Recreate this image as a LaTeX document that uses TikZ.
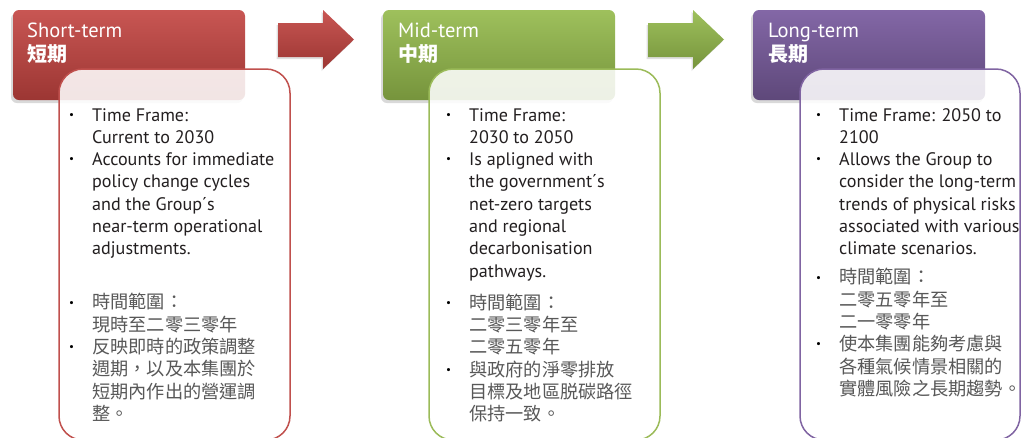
\documentclass[tikz,border=0pt]{standalone}
\usepackage{fontspec}
\setmainfont{PT Sans}
\newfontfamily\cjk{Noto Sans CJK TC}
\usetikzlibrary{shadows}
\definecolor{redA}{RGB}{200,86,83}
\definecolor{redB}{RGB}{156,54,51}
\definecolor{redE}{RGB}{192,80,77}
\definecolor{grnA}{RGB}{158,192,92}
\definecolor{grnB}{RGB}{118,148,60}
\definecolor{grnE}{RGB}{155,187,89}
\definecolor{purA}{RGB}{131,103,166}
\definecolor{purB}{RGB}{94,72,122}
\definecolor{purE}{RGB}{128,100,162}
\definecolor{engtext}{RGB}{35,31,32}
\definecolor{cjktext}{RGB}{88,88,88}

\newcommand\bulmark{\makebox[22pt][l]{\hspace{-1pt}\raisebox{2.8pt}{\fontsize{11}{11}\selectfont\textbullet}}}
\newcommand\enB[1]{\hbox{\bulmark\color{engtext}#1}}
\newcommand\enC[1]{\hbox{\hspace*{22pt}\color{engtext}#1}}
\newcommand\zhB[1]{\hbox{\bulmark{\cjk\fontsize{18.2}{22.3}\selectfont\color{cjktext}#1}}}
\newcommand\zhC[1]{\hbox{\hspace*{22pt}{\cjk\fontsize{18.2}{22.3}\selectfont\color{cjktext}#1}}}
\newcommand\bodystart{\fontsize{18.1}{22.3}\selectfont\baselineskip=22.3pt\lineskiplimit=-20pt}
\newcommand\titlebox[2]{\vtop{\fontsize{20.5}{24}\selectfont\baselineskip=24pt\lineskiplimit=-20pt\hbox{#1}\hbox{\cjk\bfseries\fontsize{20}{24}\selectfont #2}}}

\tikzset{
  header/.style 2 args={rounded corners=6pt, top color=#1, bottom color=#2,
    drop shadow={shadow xshift=-2pt, shadow yshift=-3pt, opacity=0.3},
    minimum width=232pt, minimum height=90pt, inner sep=0pt, draw=none},
  panel/.style={draw=#1, line width=1.5pt, fill=white, fill opacity=0.87,
    rounded corners=24pt, minimum height=371pt, inner sep=0pt},
  arrowshape/.style 2 args={top color=#1, bottom color=#2,
    drop shadow={shadow xshift=-1.5pt, shadow yshift=-2pt, opacity=0.25}},
  titletext/.style={anchor=base west, inner sep=0pt, text=white},
  bodytext/.style={anchor=base west, inner sep=0pt}
}

\begin{document}
\begin{tikzpicture}[x=1pt,y=-1pt]
\useasboundingbox (0,0) rectangle (1021,437);

% headers
\node[header={redA}{redB}] (hred) at (129,55) {};
\node[header={grnA}{grnB}] (hgrn) at (499,55) {};
\node[header={purA}{purB}] (hpur) at (869,55) {};

% arrows
\path[arrowshape={redA}{redB}] (278,23) -- (323,23) -- (323,10) -- (354,39.5) -- (323,69) -- (323,57) -- (278,57) -- cycle;
\path[arrowshape={grnA}{grnB}] (648,23) -- (693,23) -- (693,10) -- (724,39.5) -- (693,69) -- (693,57) -- (648,57) -- cycle;

% panels
\node[panel=redE, minimum width=231pt] (pred) at (174.5,254.5) {};
\node[panel=grnE, minimum width=231pt] (pgrn) at (544.5,254.5) {};
\node[panel=purE, minimum width=220pt] (ppur) at (910,254.5) {};

% titles
\node[titletext] (tred) at (27,37) {\titlebox{Short-term}{短期}};
\node[titletext] (tgrn) at (398,37) {\titlebox{Mid-term}{中期}};
\node[titletext] (tpur) at (768,37) {\titlebox{Long-term}{長期}};

% body texts
\node[bodytext] (bred) at (70,121) {\vtop{\bodystart
  \enB{Time Frame:}
  \enC{Current to 2030}
  \enB{Accounts for immediate}
  \enC{policy change cycles}
  \enC{and the Group´s}
  \enC{near-term operational}
  \enC{adjustments.}
  \vskip 31.7pt
  \zhB{時間範圍：}
  \zhC{現時至二零三零年}
  \zhB{反映即時的政策調整}
  \zhC{週期，以及本集團於}
  \zhC{短期內作出的營運調}
  \zhC{整。}}};

\node[bodytext] (bgrn) at (447,121) {\vtop{\bodystart
  \enB{Time Frame:}
  \enC{2030 to 2050}
  \enB{Is apligned with}
  \enC{the government´s}
  \enC{net-zero targets}
  \enC{and regional}
  \enC{decarbonisation}
  \enC{pathways.}
  \vskip 9.7pt
  \zhB{時間範圍：}
  \zhC{二零三零年至}
  \zhC{二零五零年}
  \zhB{與政府的淨零排放}
  \zhC{目標及地區脱碳路徑}
  \zhC{保持一致。}}};

\node[bodytext] (bpur) at (817,121) {\vtop{\bodystart
  \enB{Time Frame: 2050 to}
  \enC{2100}
  \enB{Allows the Group to}
  \enC{consider the long-term}
  \enC{trends of physical risks}
  \enC{associated with various}
  \enC{climate scenarios.}
  \vskip 6.7pt
  \zhB{時間範圍：}
  \zhC{二零五零年至}
  \zhC{二一零零年}
  \zhB{使本集團能夠考慮與}
  \zhC{各種氣候情景相關的}
  \zhC{實體風險之長期趨勢。}}};
\end{tikzpicture}
\end{document}
